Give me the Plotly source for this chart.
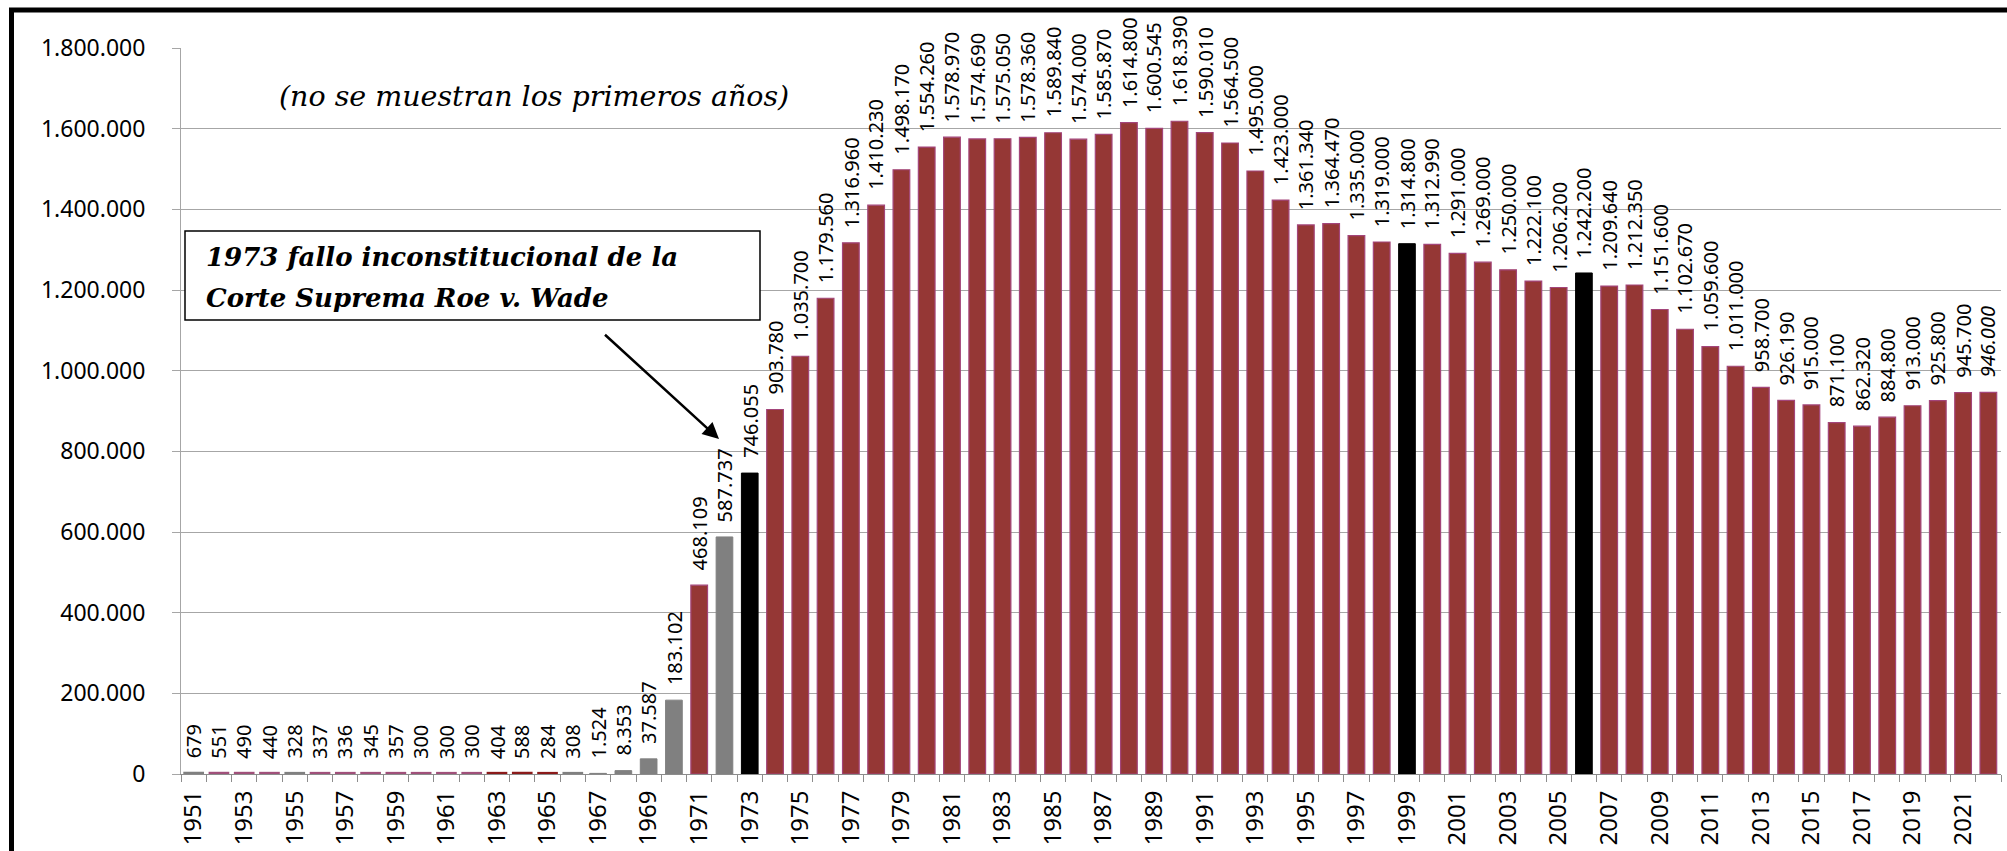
import plotly.graph_objects as go

# abortos legales por año en EE. UU. (no se muestran los primeros años)
years = list(range(1951, 2023))
abortos = [679, 551, 490, 440, 328, 337, 336, 345, 357, 300, 300, 300, 404, 588, 284, 308,
           1524, 8353, 37587, 183102, 468109, 587737, 746055, 903780, 1035700, 1179560,
           1316960, 1410230, 1498170, 1554260, 1578970, 1574690, 1575050, 1578360, 1589840,
           1574000, 1585870, 1614800, 1600545, 1618390, 1590010, 1564500, 1495000, 1423000,
           1361340, 1364470, 1335000, 1319000, 1314800, 1312990, 1291000, 1269000, 1250000,
           1222100, 1206200, 1242200, 1209640, 1212350, 1151600, 1102670, 1059600, 1011000,
           958700, 926190, 915000, 871100, 862320, 884800, 913000, 925800, 945700, 946000]

gray_years = [1951, 1955, 1966, 1967, 1968, 1969, 1970, 1972]
red_years = [1963, 1964, 1965]
black_years = [1973, 1999, 2006]
italic_years = [2022]

note = "(no se muestran los primeros años)"
callout = ["1973 fallo inconstitucional de la", "Corte Suprema Roe v. Wade"]

MAROON = "#953735"
cats = [str(y) for y in years]

fill, edge, edge_w = [], [], []
for y, v in zip(years, abortos):
    tiny = v < 1000
    if y in black_years:
        fill.append("#000000"); edge.append("#000000"); edge_w.append(1)
    elif y in gray_years:
        fill.append("#808080"); edge.append("#808080"); edge_w.append(4 if tiny else 1)
    elif y in red_years:
        fill.append("#8b1a1a"); edge.append("#8b1a1a"); edge_w.append(4)
    else:
        fill.append(MAROON); edge.append("#a3457a" if not tiny else "#a0507a")
        edge_w.append(4 if tiny else 1.2)

fig = go.Figure()
fig.add_trace(go.Bar(x=cats, y=abortos, marker=dict(color=fill, line=dict(color=edge, width=edge_w)),
                     hoverinfo="x+y"))

def fmt(v):
    return f"{v:,}".replace(",", ".")

annotations = []
for i, (y, v) in enumerate(zip(years, abortos)):
    txt = fmt(v)
    if y in italic_years:
        txt = "<i>" + txt + "</i>"
    annotations.append(dict(x=i, y=v, xref="x", yref="y", text=txt, textangle=-90,
                            showarrow=False, yanchor="bottom", xanchor="center", yshift=13,
                            font=dict(family="Noto Sans", size=20, color="black")))

# plot area in pixels: x 181..2001, y 48..774
def px(x):
    return (x - 181) / 1820

def py(y):
    return (774 - y) / 726

annotations.append(dict(x=px(534), y=py(96), xref="paper", yref="paper", text="<i>" + note + "</i>",
                        showarrow=False, xanchor="center", yanchor="middle",
                        font=dict(family="DejaVu Serif", size=28.5, color="black")))
for line, ypix in zip(callout, [257, 298]):
    annotations.append(dict(x=px(204), y=py(ypix), xref="paper", yref="paper", text="<b><i>" + line + "</i></b>",
                            showarrow=False, xanchor="left", yanchor="middle", align="left",
                            font=dict(family="DejaVu Serif", size=26, color="black")))
annotations.append(dict(x=px(719), y=py(439), xref="paper", yref="paper", showarrow=True,
                        ax=602 - 719, ay=332 - 439, arrowhead=2, arrowsize=1.3, arrowwidth=2.5,
                        arrowcolor="black"))

shapes = [
    dict(type="rect", xref="paper", yref="paper", x0=px(185), x1=px(760), y0=py(320), y1=py(231),
         line=dict(color="black", width=1.5), fillcolor="white", layer="above"),
    dict(type="rect", xref="paper", yref="paper", x0=px(11.5), x1=px(2030), y0=py(880), y1=py(10),
         line=dict(color="black", width=5)),
]

fig.update_layout(
    width=2007, height=851,
    margin=dict(l=181, r=6, t=48, b=77),
    paper_bgcolor="white", plot_bgcolor="white",
    separators=",.",
    bargap=0.34,
    showlegend=False,
    annotations=annotations,
    shapes=shapes,
    xaxis=dict(type="category", range=[-0.5, len(years) - 0.5], tickvals=cats,
               ticktext=[c if y % 2 == 1 else "" for c, y in zip(cats, years)],
               tickson="boundaries", ticks="outside", ticklen=7, tickcolor="#8c8c8c",
               tickangle=-90, showline=True, linecolor="#8c8c8c", linewidth=1,
               showgrid=False, ticklabelstandoff=6,
               tickfont=dict(family="Noto Sans", size=24, color="black")),
    yaxis=dict(range=[0, 1800000], dtick=200000, tickformat=",d",
               showgrid=True, gridcolor="#a6a6a6", gridwidth=1,
               ticks="outside", ticklen=8, tickcolor="#a6a6a6",
               showline=True, linecolor="#a6a6a6", linewidth=1, zeroline=False,
               ticklabelstandoff=22,
               tickfont=dict(family="Noto Sans", size=23, color="black")),
)

fig.write_html("out.html", config={"displayModeBar": False},
               post_script="document.body.style.margin='0';document.body.style.overflow='hidden';")
